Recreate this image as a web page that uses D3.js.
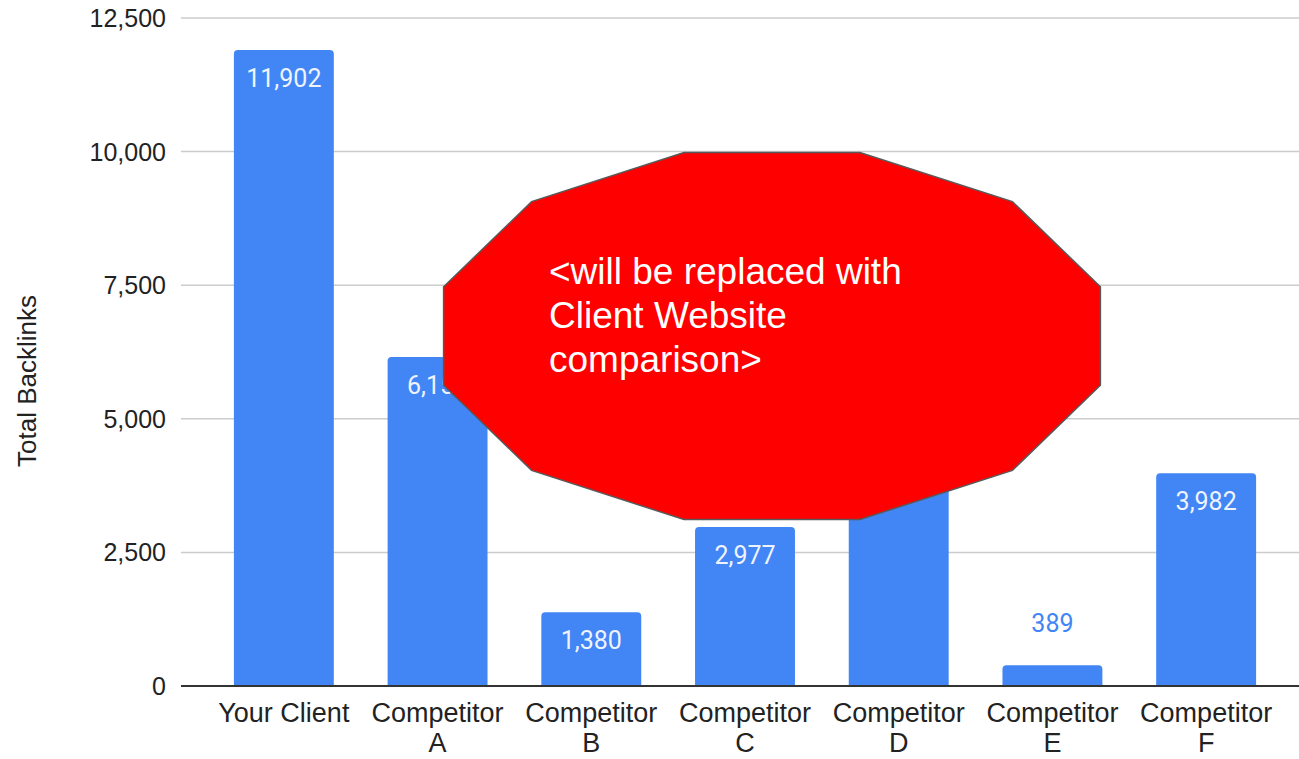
<!DOCTYPE html>
<html>
<head>
<meta charset="utf-8">
<script src="https://cdn.jsdelivr.net/npm/d3@7"></script>
<style>
  body { margin: 0; background: #fff; }
  svg { display: block; }
</style>
</head>
<body>
<div id="chart"></div>
<script>
// Data
const categories = ["Your Client", "Competitor A", "Competitor B", "Competitor C", "Competitor D", "Competitor E", "Competitor F"];
const backlinks = [11902, 6156, 1380, 2977, 4500, 389, 3982];
const yTicks = [0, 2500, 5000, 7500, 10000, 12500];
const noteLines = ["<will be replaced with", "Client Website", "comparison>"];

const W = 1299, H = 759;
const blue = "#4285f4";

const svg = d3.select("#chart")
  .append("svg")
  .attr("width", W)
  .attr("height", H);

// Scales
const x = d3.scaleBand()
  .domain(categories)
  .range([207, 1283])
  .paddingInner(0.35)
  .paddingOuter(0.175);

const y = d3.scaleLinear()
  .domain([0, 12500])
  .range([686, 18]);

// Gridlines + tick labels
const yAxis = svg.append("g");
yAxis.selectAll("line.grid")
  .data(yTicks.filter(d => d > 0))
  .join("line")
  .attr("class", "grid")
  .attr("x1", 181)
  .attr("x2", W)
  .attr("y1", d => y(d))
  .attr("y2", d => y(d))
  .attr("stroke", "#cccccc")
  .attr("stroke-width", 1.5);

yAxis.selectAll("text")
  .data(yTicks)
  .join("text")
  .attr("x", 166)
  .attr("y", d => y(d))
  .attr("dy", "0.36em")
  .attr("text-anchor", "end")
  .style("font-family", "'Liberation Sans', Arial, sans-serif")
  .style("font-size", "25px")
  .attr("fill", "#222")
  .text(d => d3.format(",")(d));

// Y title
svg.append("text")
  .attr("transform", `translate(36, ${(18 + 686) / 2 + 29}) rotate(-90)`)
  .attr("text-anchor", "middle")
  .style("font-family", "'Liberation Sans', Arial, sans-serif")
  .style("font-size", "26px")
  .attr("fill", "#222")
  .text("Total Backlinks");

// Bars (rounded top corners)
const r = 4;
function barPath(d, i) {
  const x0 = x(categories[i]), w = x.bandwidth();
  const y0 = y(d), y1 = y(0);
  return `M${x0},${y1} V${y0 + r} Q${x0},${y0} ${x0 + r},${y0} H${x0 + w - r} Q${x0 + w},${y0} ${x0 + w},${y0 + r} V${y1} Z`;
}

svg.append("g")
  .selectAll("path")
  .data(backlinks)
  .join("path")
  .attr("d", barPath)
  .attr("fill", blue);

// Baseline
svg.append("line")
  .attr("x1", 181)
  .attr("x2", W)
  .attr("y1", y(0))
  .attr("y2", y(0))
  .attr("stroke", "#333")
  .attr("stroke-width", 2);

// Value labels
const labels = svg.append("g")
  .style("font-family", "Roboto, sans-serif")
  .style("font-size", "25px")
  .attr("text-anchor", "middle");

labels.selectAll("text")
  .data(backlinks)
  .join("text")
  .attr("x", (d, i) => x(categories[i]) + x.bandwidth() / 2)
  .attr("y", d => (y(0) - y(d) > 50 ? y(d) + 37 : y(d) - 33))
  .attr("fill", d => (y(0) - y(d) > 50 ? "#eef3fe" : blue))
  .attr("stroke", d => (y(0) - y(d) > 50 ? "none" : "#fff"))
  .attr("stroke-width", 4)
  .attr("paint-order", "stroke")
  .text(d => d3.format(",")(d));

// X labels (wrapped)
const xLabels = svg.append("g")
  .style("font-family", "'Liberation Sans', Arial, sans-serif")
  .style("font-size", "27px")
  .attr("fill", "#222")
  .attr("text-anchor", "middle");

xLabels.selectAll("text")
  .data(categories)
  .join("text")
  .attr("x", d => x(d) + x.bandwidth() / 2)
  .attr("y", 722)
  .each(function(d) {
    const parts = d === "Your Client" ? [d] : d.split(" ");
    const t = d3.select(this);
    parts.forEach((p, k) => {
      t.append("tspan")
        .attr("x", x(d) + x.bandwidth() / 2)
        .attr("dy", k === 0 ? 0 : 30)
        .text(p);
    });
  });

// Overlay note: stretched dodecagon
const cx = 772, cy = 336, rx = 340, ry = 190;
const pts = d3.range(12).map(k => {
  const a = (15 + 30 * k) * Math.PI / 180;
  return [cx + rx * Math.cos(a), cy - ry * Math.sin(a)];
});

svg.append("polygon")
  .attr("points", pts.map(p => p.join(",")).join(" "))
  .attr("fill", "#ff0000")
  .attr("stroke", "#595959")
  .attr("stroke-width", 1.5);

svg.append("g")
  .selectAll("text")
  .data(noteLines)
  .join("text")
  .attr("x", 549)
  .attr("y", (d, i) => 284 + i * 44)
  .style("font-family", "'Liberation Sans', Arial, sans-serif")
  .style("font-size", "37px")
  .attr("fill", "#fff")
  .text(d => d);
</script>
</body>
</html>
